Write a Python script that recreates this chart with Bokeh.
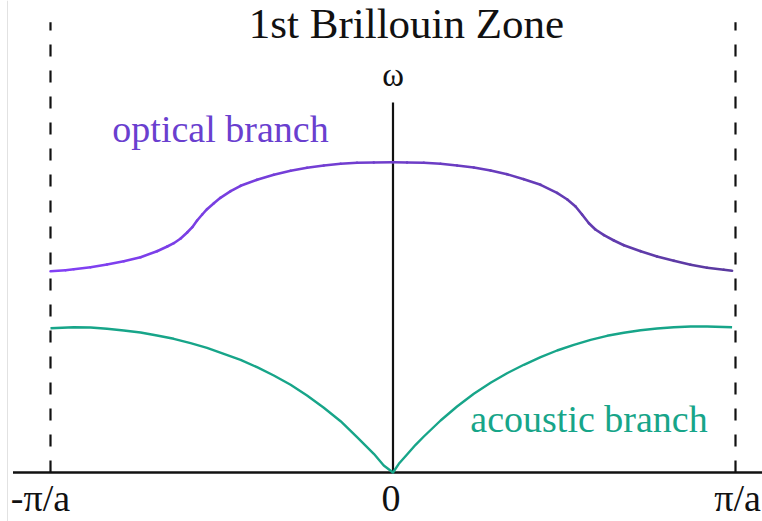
import numpy as np
from bokeh.plotting import figure
from bokeh.models import Range1d, ColumnDataSource, Span
from bokeh.core.properties import value
from bokeh.embed import file_html
from bokeh.resources import INLINE

# Wave vector k in units of pi/a, frequency omega in arbitrary units
k_optical = [-1.000, -0.956, -0.932, -0.883, -0.835, -0.786, -0.737, -0.689, -0.659,
             -0.640, -0.620, -0.601, -0.586, -0.572, -0.557, -0.543, -0.523, -0.504,
             -0.474, -0.445, -0.397, -0.348, -0.299, -0.251, -0.202, -0.153, -0.105,
             -0.056, 0.000,
             0.041, 0.090, 0.139, 0.187, 0.236, 0.285, 0.333, 0.382, 0.431, 0.479,
             0.509, 0.533, 0.552, 0.572, 0.591, 0.616, 0.645, 0.674, 0.723, 0.771,
             0.820, 0.869, 0.917, 0.966, 0.990]
w_optical = [2.013, 2.023, 2.033, 2.053, 2.080, 2.113, 2.153, 2.213, 2.260,
             2.293, 2.340, 2.400, 2.453, 2.520, 2.580, 2.633, 2.693, 2.747,
             2.813, 2.867, 2.927, 2.977, 3.017, 3.047, 3.070, 3.087, 3.097,
             3.100, 3.103,
             3.100, 3.097, 3.087, 3.070, 3.050, 3.020, 2.983, 2.933, 2.877, 2.797,
             2.730, 2.660, 2.580, 2.493, 2.430, 2.373, 2.320, 2.273, 2.213, 2.160,
             2.117, 2.077, 2.047, 2.027, 2.017]

k_acoustic = [-1.000, -0.932, -0.883, -0.835, -0.786, -0.737, -0.689, -0.640, -0.591,
              -0.543, -0.494, -0.445, -0.397, -0.348, -0.299, -0.251, -0.202, -0.153,
              -0.105, -0.056, -0.027, 0.000,
              0.017, 0.041, 0.066, 0.090, 0.139, 0.187, 0.236, 0.285, 0.333, 0.382,
              0.431, 0.479, 0.528, 0.577, 0.625, 0.674, 0.723, 0.771, 0.820, 0.869,
              0.917, 0.990]
w_acoustic = [1.443, 1.453, 1.450, 1.437, 1.420, 1.400, 1.370, 1.337, 1.293,
              1.247, 1.187, 1.127, 1.053, 0.970, 0.877, 0.770, 0.647, 0.513,
              0.353, 0.187, 0.070, 0.000,
              0.087, 0.180, 0.277, 0.360, 0.520, 0.660, 0.787, 0.897, 0.993, 1.077,
              1.153, 1.220, 1.277, 1.327, 1.367, 1.397, 1.423, 1.440, 1.453, 1.460,
              1.460, 1.453]

tick_k = [-1.0, 0.0, 1.0]
tick_labels = ["-π/a", "0", "π/a"]
zone_edges = [-1.0, 1.0]

SERIF = value("Liberation Serif")
BLACK = "#111111"
TEAL = "#17a589"
VIOLET_LEFT = np.array([0x82, 0x40, 0xf6])
VIOLET_RIGHT = np.array([0x5a, 0x3a, 0x9e])
VIOLET_TEXT = "#6a3fcf"

W, H = 762, 521
PX_PER_K = 342.5
PX_PER_W = 100.0
K0_PX, W0_PX = 392.5, 472.0

p = figure(width=W, height=H, output_backend="svg", toolbar_location=None,
           x_axis_location=None, y_axis_location=None, min_border=0,
           x_range=Range1d(-K0_PX / PX_PER_K, (W - K0_PX) / PX_PER_K),
           y_range=Range1d(-(H - W0_PX) / PX_PER_W, W0_PX / PX_PER_W))
p.grid.visible = False
p.outline_line_color = None
p.background_fill_color = "white"
p.border_fill_color = "white"

# faint frame edge on the left
p.add_layout(Span(location=-1.1256, dimension="height", line_color="#e2e2e2", line_width=1))

# k axis and omega axis
p.segment(x0=[-1.1095], y0=[0], x1=[1.2], y1=[0], line_color=BLACK, line_width=2.5)
p.segment(x0=[0], y0=[0], x1=[0], y1=[3.70], line_color=BLACK, line_width=2.2)

# zone boundaries
for kb in zone_edges:
    p.line([kb, kb], [0, 4.503], line_color=BLACK, line_width=2.2, line_dash="12 14")

# optical branch, shaded from left to right
xs, ys, cols = [], [], []
for i in range(len(k_optical) - 1):
    xs.append([k_optical[i], k_optical[i + 1]])
    ys.append([w_optical[i], w_optical[i + 1]])
    t = (0.5 * (k_optical[i] + k_optical[i + 1]) + 1.0) / 2.0
    c = (1 - t) * VIOLET_LEFT + t * VIOLET_RIGHT
    cols.append("#%02x%02x%02x" % tuple(int(round(v)) for v in c))
p.multi_line(xs=xs, ys=ys, line_color=cols, line_width=2.6, line_cap="round", line_join="round")

# acoustic branch
p.line(k_acoustic, w_acoustic, line_color=TEAL, line_width=2.4, line_join="round")

# labels
p.text(x=[0.0394], y=[4.487], text=["1st Brillouin Zone"], text_font=SERIF,
       text_font_size=value("43px"), text_align="center", text_baseline="alphabetic",
       text_color=BLACK)
p.text(x=[0.0], y=[3.977], text=["ω"], text_font=SERIF, text_font_size=value("33px"),
       text_align="center", text_baseline="alphabetic", text_color=BLACK)
p.text(x=[-0.5036], y=[3.44], text=["optical branch"], text_font=SERIF,
       text_font_size=value("38px"), text_align="center", text_baseline="alphabetic",
       text_color=VIOLET_TEXT)
p.text(x=[0.5723], y=[0.54], text=["acoustic branch"], text_font=SERIF,
       text_font_size=value("38px"), text_align="center", text_baseline="alphabetic",
       text_color=TEAL)

tick_src = ColumnDataSource(dict(x=tick_k, y=[-0.257] * len(tick_k), text=tick_labels,
                                 dx=[-10, -2, 2]))
p.text(x="x", y="y", text="text", x_offset="dx", source=tick_src, text_font=SERIF,
       text_font_size=value("38px"), text_align="center", text_baseline="alphabetic",
       text_color=BLACK)

open("out.html", "w").write(file_html(p, INLINE))
